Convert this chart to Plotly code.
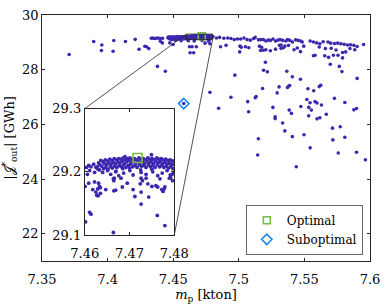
import plotly.graph_objects as go

# ---------------- data ----------------
# dense band of solutions inside the zoom window
band_mp = [7.4631, 7.4628, 7.4633,
           7.4636, 7.4634,
           7.4641, 7.4638, 7.4642,
           7.4646, 7.4644, 7.4647,
           7.4651, 7.4649, 7.4652,
           7.4656, 7.4654, 7.4657,
           7.4661, 7.4659, 7.4662,
           7.4666, 7.4664, 7.4667,
           7.4671, 7.4669, 7.4672, 7.4670,
           7.4676, 7.4674, 7.4677,
           7.4681, 7.4679, 7.4682,
           7.4686, 7.4684, 7.4687, 7.4685,
           7.4691, 7.4689, 7.4692,
           7.4696, 7.4694, 7.4697,
           7.4701, 7.4699, 7.4702, 7.4700,
           7.4706, 7.4704, 7.4707,
           7.4711, 7.4709, 7.4712,
           7.4716, 7.4714, 7.4717,
           7.4721, 7.4719, 7.4722,
           7.4726, 7.4724, 7.4727, 7.4725,
           7.4731, 7.4729, 7.4732,
           7.4736, 7.4734, 7.4737,
           7.4741, 7.4739, 7.4742,
           7.4746, 7.4744, 7.4747,
           7.4751, 7.4749, 7.4752, 7.4750,
           7.4756, 7.4754, 7.4757,
           7.4761, 7.4759, 7.4762,
           7.4766, 7.4764, 7.4767,
           7.4771, 7.4769, 7.4772,
           7.4776, 7.4774, 7.4777,
           7.4781, 7.4779, 7.4782,
           7.4786, 7.4784, 7.4787,
           7.4791, 7.4789, 7.4792,
           7.4796, 7.4794, 7.4797,
           7.4801, 7.4799,
           7.4749, 7.4690]
band_J = [29.214, 29.208, 29.203,
          29.218, 29.211,
          29.216, 29.209, 29.205,
          29.219, 29.213, 29.207,
          29.217, 29.211, 29.204,
          29.220, 29.214, 29.208,
          29.218, 29.212, 29.206,
          29.221, 29.215, 29.209,
          29.219, 29.213, 29.207, 29.201,
          29.221, 29.216, 29.210,
          29.220, 29.214, 29.208,
          29.222, 29.217, 29.211, 29.205,
          29.219, 29.213, 29.207,
          29.221, 29.216, 29.210,
          29.222, 29.218, 29.212, 29.206,
          29.220, 29.214, 29.208,
          29.221, 29.216, 29.210,
          29.219, 29.213, 29.207,
          29.222, 29.217, 29.211,
          29.220, 29.215, 29.209, 29.203,
          29.221, 29.216, 29.210,
          29.219, 29.213, 29.207,
          29.222, 29.217, 29.211,
          29.220, 29.214, 29.208,
          29.221, 29.216, 29.210, 29.204,
          29.219, 29.213, 29.207,
          29.222, 29.217, 29.211,
          29.220, 29.214, 29.208,
          29.221, 29.216, 29.210,
          29.219, 29.213, 29.207,
          29.220, 29.215, 29.209,
          29.218, 29.212, 29.206,
          29.219, 29.214, 29.208,
          29.217, 29.211, 29.205,
          29.218, 29.212,
          29.227, 29.224]

# sparser points just under the band, inside the zoom window
mid_mp = [7.4640, 7.4651, 7.4658, 7.4669, 7.4676, 7.4687, 7.4701, 7.4708,
          7.4726, 7.4737, 7.4752, 7.4763, 7.4773, 7.4784, 7.4791, 7.4799,
          7.4604, 7.4609, 7.4614, 7.4620, 7.4625, 7.4611, 7.4622, 7.4630, 7.4606]
mid_J = [29.199, 29.202, 29.196, 29.200, 29.194, 29.198, 29.202, 29.195,
         29.199, 29.196, 29.200, 29.194, 29.198, 29.202, 29.195, 29.199,
         29.207, 29.210, 29.208, 29.212, 29.207, 29.202, 29.199, 29.204, 29.196]

low_mp = [7.4609, 7.4622, 7.4631, 7.4633, 7.4629, 7.4635, 7.4625, 7.4627,
          7.4630, 7.4635, 7.4618, 7.4647, 7.4664, 7.4666, 7.4665, 7.4665,
          7.4669, 7.4681, 7.4684, 7.4695, 7.4708, 7.4712, 7.4726, 7.4724,
          7.4729, 7.4726, 7.4737, 7.4741, 7.4743, 7.4750, 7.4759, 7.4763,
          7.4768, 7.4772, 7.4775, 7.4777, 7.4779, 7.4789, 7.4726, 7.4611,
          7.4614, 7.4602, 7.4664, 7.4762, 7.4779, 7.4601, 7.4795, 7.4792,
          7.4796, 7.4615, 7.4660, 7.4720, 7.4770]
low_J = [29.182, 29.184, 29.182, 29.177, 29.173, 29.175, 29.168, 29.163,
         29.162, 29.166, 29.172, 29.172, 29.189, 29.190, 29.186, 29.170,
         29.171, 29.190, 29.176, 29.182, 29.172, 29.161, 29.168, 29.181,
         29.186, 29.190, 29.190, 29.181, 29.160, 29.177, 29.178, 29.176,
         29.189, 29.172, 29.169, 29.173, 29.176, 29.190, 29.149, 29.136,
         29.133, 29.121, 29.104, 29.131, 29.115, 29.177, 29.196, 29.191,
         29.186, 29.06, 29.05, 29.07, 29.04]

# band left of the zoom window
left_mp = [7.4460, 7.4465, 7.4470, 7.4475, 7.4480, 7.4485, 7.4490, 7.4495,
           7.4500, 7.4505, 7.4510, 7.4515, 7.4520, 7.4525, 7.4530, 7.4535,
           7.4540, 7.4545, 7.4550, 7.4555, 7.4560, 7.4565, 7.4570, 7.4575,
           7.4580, 7.4585, 7.4590, 7.4595,
           7.4333, 7.4345, 7.4356, 7.4370, 7.4385, 7.4400, 7.4419,
           7.4474, 7.4499, 7.4402, 7.4417]
left_J = [29.18, 29.15, 29.20, 29.12, 29.17, 29.19, 29.10, 29.16,
          29.20, 29.13, 29.18, 29.08, 29.19, 29.15, 29.21, 29.11,
          29.17, 29.20, 29.14, 29.19, 29.06, 29.21, 29.16, 29.20,
          29.12, 29.18, 29.21, 29.15,
          29.15, 29.16, 29.14, 29.15, 29.16, 29.14, 29.15,
          28.98, 28.92, 29.04, 28.98]

# band right of the zoom window
right_mp = [7.4829, 7.4854, 7.4886, 7.4916, 7.4940, 7.4965, 7.4989, 7.5014,
            7.5039, 7.5063, 7.5088, 7.5113, 7.5125, 7.5150, 7.5167, 7.5187,
            7.5206, 7.5224, 7.5241, 7.5261, 7.5280, 7.5298, 7.5315, 7.5335,
            7.5359, 7.5372, 7.5389, 7.5409, 7.5433, 7.5453, 7.5473, 7.5483,
            7.5544, 7.5569, 7.5594, 7.5618, 7.5643, 7.5680, 7.5700, 7.5729,
            7.5754, 7.5778, 7.5803, 7.5828, 7.5852, 7.5877, 7.5902, 7.5951,
            7.4861, 7.4903, 7.5009, 7.5019, 7.5051, 7.5076, 7.5157, 7.5174,
            7.5187, 7.5206, 7.5241, 7.5280, 7.5310, 7.5322, 7.5340, 7.5379,
            7.5421, 7.5446, 7.5495, 7.5660, 7.5704, 7.5741, 7.5791, 7.5815,
            7.5847, 7.5884, 7.5007, 7.5166, 7.5470, 7.5613, 7.5322, 7.5351]
right_J = [29.16, 29.18, 29.15, 29.16, 29.14, 29.10, 29.12, 29.12,
           29.16, 29.10, 29.08, 29.14, 29.18, 29.09, 29.10, 29.10,
           29.05, 29.08, 29.07, 29.12, 29.05, 29.08, 29.10, 29.07,
           29.05, 29.10, 29.07, 29.01, 29.09, 29.07, 29.05, 29.01,
           29.05, 29.01, 28.98, 28.95, 29.02, 29.01, 28.97, 28.96,
           28.97, 28.95, 28.93, 28.90, 28.91, 28.89, 28.85, 28.92,
           28.84, 28.89, 28.86, 28.82, 28.84, 28.80, 28.86, 28.82,
           28.71, 28.73, 28.69, 28.75, 28.89, 28.78, 28.80, 28.89,
           28.73, 28.79, 28.86, 28.77, 28.78, 28.72, 28.63, 28.65,
           28.77, 28.73, 28.65, 28.70, 28.66, 28.83, 28.90, 28.86]

# scattered solutions
spread_mp = [7.3707, 7.3894, 7.3956, 7.3953, 7.4047, 7.4042, 7.4136, 7.4210,
             7.4240, 7.4284, 7.4297, 7.4314, 7.4380, 7.4440,
             7.4624, 7.4644, 7.4676, 7.4629, 7.4656, 7.4743, 7.4780,
             7.5569, 7.5581, 7.5655, 7.5684, 7.5721, 7.5756, 7.5791, 7.5697,
             7.5766, 7.5786, 7.5366, 7.5408, 7.5470, 7.5902,
             7.4970, 7.5189, 7.5218, 7.5203, 7.4780, 7.4846, 7.4940, 7.5068,
             7.5075, 7.5125, 7.5132, 7.5181, 7.5260, 7.5277, 7.5277, 7.5292,
             7.5307, 7.5334, 7.5351, 7.5371, 7.5381, 7.5388, 7.5384, 7.5401,
             7.5408, 7.5473, 7.5497, 7.5527, 7.5519, 7.5543, 7.5553, 7.5533,
             7.5533, 7.5544, 7.5571, 7.5613, 7.5625, 7.5581, 7.5596, 7.5630,
             7.5596, 7.5618, 7.5667, 7.5714, 7.5773, 7.5717, 7.5729, 7.5758,
             7.5808, 7.5808, 7.5877, 7.5897, 7.5897, 7.5965, 7.5144, 7.5438,
             7.5149, 7.4580]
spread_J = [28.555, 29.03, 28.90, 28.70, 29.065, 28.675, 29.03, 29.11,
            28.745, 28.855, 28.84, 28.77, 28.12, 27.94,
            28.84, 28.84, 28.84, 28.62, 28.62, 28.97, 28.95,
            28.51, 28.53, 28.51, 28.45, 28.53, 28.53, 28.43, 28.20,
            28.12, 27.93, 27.94, 27.74, 27.65, 27.68,
            27.80, 27.98, 27.92, 28.27, 27.17, 26.59, 26.99, 26.83,
            26.46, 26.97, 27.02, 27.31, 26.62, 26.28, 26.21, 27.15,
            27.37, 26.05, 25.76, 27.35, 27.40, 27.42, 26.52, 26.40,
            25.55, 26.65, 25.62, 27.30, 26.91, 26.79, 26.52, 26.62,
            26.31, 25.14, 27.23, 27.38, 27.43, 26.83, 26.78, 26.71,
            26.20, 26.24, 26.37, 25.86, 25.91, 25.43, 26.95, 24.95,
            26.80, 25.53, 26.53, 26.58, 24.98, 24.70, 24.88, 24.45,
            25.47, 26.76]

optimal_mp, optimal_J = [7.4718], [29.222]
subopt_mp, subopt_J = [7.4580], [26.76]

x_ticks = [7.35, 7.4, 7.45, 7.5, 7.55, 7.6]
x_ticktext = ["7.35", "7.4", "7.45", "7.5", "7.55", "7.6"]
y_ticks = [22, 24, 26, 28, 30]
inset_x_ticks = [7.46, 7.47, 7.48]
inset_y_ticks = [29.1, 29.2, 29.3]

# ---------------- styling ----------------
FONT = "DejaVu Serif"
FS = 13
DOT = "rgb(60,40,175)"
GREEN = "rgb(120,190,60)"
BLUE = "rgb(30,136,229)"
AX = "rgb(38,38,38)"

x_range = [7.35, 7.6]
y_range = [21, 30]
zoom_x = [7.46, 7.48]
zoom_y = [29.1, 29.3]
inset_dom_x = [0.1302, 0.4033]
inset_dom_y = [0.1055, 0.6194]

all_mp = band_mp + mid_mp + low_mp + left_mp + right_mp + spread_mp
all_J = band_J + mid_J + low_J + left_J + right_J + spread_J

fig = go.Figure()
for xa, ya, sz in (("x", "y", 3.6), ("x2", "y2", 3.8)):
    fig.add_trace(go.Scatter(x=all_mp, y=all_J, mode="markers", xaxis=xa, yaxis=ya,
                             marker=dict(size=sz, color=DOT, line=dict(width=0)),
                             showlegend=False, hoverinfo="skip"))

fig.add_trace(go.Scatter(x=optimal_mp, y=optimal_J, mode="markers", name="Optimal",
                         marker=dict(symbol="square-open", size=7, color=GREEN,
                                     line=dict(width=1.6, color=GREEN))))
fig.add_trace(go.Scatter(x=subopt_mp, y=subopt_J, mode="markers", name="Suboptimal",
                         marker=dict(symbol="diamond-open", size=8, color=BLUE,
                                     line=dict(width=1.6, color=BLUE))))
fig.add_trace(go.Scatter(x=optimal_mp, y=optimal_J, mode="markers", xaxis="x2", yaxis="y2",
                         showlegend=False,
                         marker=dict(symbol="square-open", size=9, color=GREEN,
                                     line=dict(width=1.6, color=GREEN))))

axis_common = dict(showgrid=False, zeroline=False, showline=True, linecolor=AX,
                   linewidth=0.8, ticks="inside", ticklen=3, tickcolor=AX, tickwidth=0.8,
                   mirror="allticks", tickfont=dict(family=FONT, size=FS, color="black"))

fig.update_layout(
    width=392, height=306,
    margin=dict(l=42, r=12, t=8, b=45),
    paper_bgcolor="white", plot_bgcolor="white",
    font=dict(family=FONT, size=FS, color="black"),
    xaxis=dict(range=x_range, tickvals=x_ticks, ticktext=x_ticktext, domain=[0, 1],
               automargin=False, ticklabelstandoff=6,
               title=dict(text="<i>m</i><sub>p</sub> [kton]", standoff=4,
                          font=dict(family=FONT, size=FS)),
               **axis_common),
    yaxis=dict(range=y_range, tickvals=y_ticks, domain=[0, 1], automargin=False,
               title=dict(text="|𝒥<sup>*</sup><sub>out</sub>| [GWh]", standoff=4,
                          font=dict(family=FONT, size=FS)),
               **axis_common),
    xaxis2=dict(range=zoom_x, tickvals=inset_x_ticks, domain=inset_dom_x, anchor="y2",
                ticklabelstandoff=6, **axis_common),
    yaxis2=dict(range=zoom_y, tickvals=inset_y_ticks, domain=inset_dom_y, anchor="x2",
                **axis_common),
    legend=dict(x=0.979, y=0.024, xanchor="right", yanchor="bottom",
                bgcolor="white", bordercolor=AX, borderwidth=0.7, itemwidth=30,
                font=dict(family=FONT, size=12), tracegroupgap=0),
)

# zoom rectangle and connectors (inset corners expressed in main-axis data units)
cx0 = x_range[0] + inset_dom_x[0] * (x_range[1] - x_range[0])
cx1 = x_range[0] + inset_dom_x[1] * (x_range[1] - x_range[0])
cy0 = y_range[0] + inset_dom_y[0] * (y_range[1] - y_range[0])
cy1 = y_range[0] + inset_dom_y[1] * (y_range[1] - y_range[0])
fig.add_shape(type="rect", xref="x", yref="y", x0=zoom_x[0], x1=zoom_x[1],
              y0=zoom_y[0], y1=zoom_y[1], line=dict(color=AX, width=0.9))
fig.add_shape(type="line", xref="x", yref="y", x0=zoom_x[0], y0=zoom_y[1], x1=cx0, y1=cy1,
              line=dict(color=AX, width=0.8))
fig.add_shape(type="line", xref="x", yref="y", x0=zoom_x[1], y0=zoom_y[0], x1=cx1, y1=cy0,
              line=dict(color=AX, width=0.8))

fig.write_html("out.html", config={"displayModeBar": False},
               post_script="document.body.style.margin='0px';")
